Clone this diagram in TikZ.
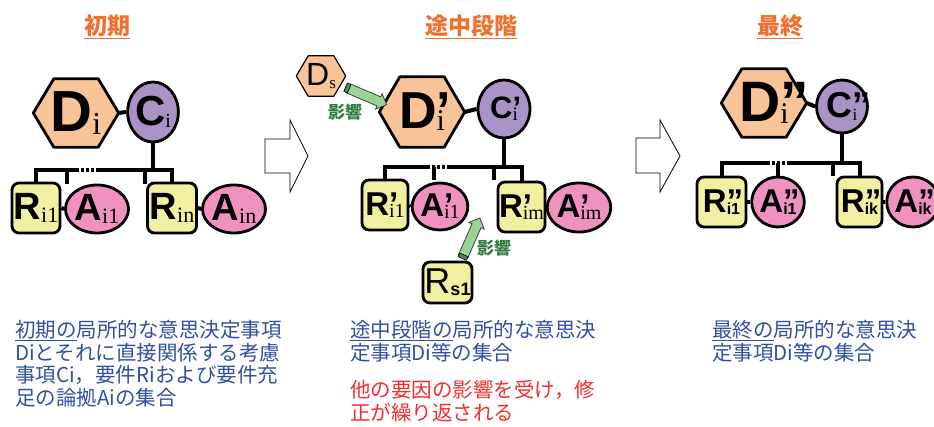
\documentclass[tikz,border=0pt]{standalone}
\usepackage{fontspec}
\setmainfont{Liberation Sans}
\newfontfamily\jp{Noto Sans CJK JP}
\newfontfamily\serifF{Liberation Serif}
\usetikzlibrary{shapes.geometric,shapes.arrows,calc,backgrounds}

\definecolor{hexc}{HTML}{F9C497}
\definecolor{cc}{HTML}{A992C6}
\definecolor{rc}{HTML}{F0F0A0}
\definecolor{ac}{HTML}{F092C0}
\definecolor{ttl}{HTML}{F07030}
\definecolor{blu}{HTML}{3050A0}
\definecolor{rd}{HTML}{F03030}
\definecolor{gf}{HTML}{98D498}
\definecolor{gt}{HTML}{2E7A3C}

% #1 letter size, #2 letter, #3 prime, #4 subscript, #5 sub size, #6 sub font
\newcommand\Lb[6]{{\fontsize{#1}{#1}\selectfont\bfseries #2\rlap{#3}}{\raisebox{-0.22em}{\fontsize{#5}{#5}\selectfont #6#4}}}
\newcommand\Lr[6]{{\fontsize{#1}{#1}\selectfont #2\rlap{#3}}{\raisebox{-0.22em}{\fontsize{#5}{#5}\selectfont #6#4}}}

\newcommand\hexat[1]{%
  \begin{scope}[on background layer]
  \filldraw[hexline] (#1.west) -- ($(#1.north west)!0.24!(#1.north east)$) -- ($(#1.north west)!0.76!(#1.north east)$) -- (#1.east) -- ($(#1.south west)!0.76!(#1.south east)$) -- ($(#1.south west)!0.24!(#1.south east)$) -- cycle;
  \end{scope}}

\tikzset{
  hexn/.style={rectangle, inner sep=0pt, align=center},
  hexline/.style={draw=black, fill=hexc, line width=2.8pt, line join=round},
  cnode/.style={ellipse, draw=black, fill=cc, line width=2.8pt, inner sep=0pt},
  rnode/.style={rectangle, rounded corners=7pt, draw=black, fill=rc, line width=2.8pt, inner sep=0pt},
  anode/.style={ellipse, draw=black, fill=ac, line width=2.8pt, inner sep=0pt},
  conn/.style={draw=black, line width=4pt},
  dotbus/.style={draw=black, line width=4pt, dash pattern=on 3pt off 2pt},
  ttlnode/.style={font=\jp\bfseries\fontsize{23pt}{26pt}\selectfont, text=ttl, inner sep=0pt},
  bodytext/.style={font=\jp\fontsize{20.5pt}{22.6pt}\selectfont, align=left, inner sep=0pt, anchor=north west},
  infl/.style={font=\jp\bfseries\fontsize{17pt}{18pt}\selectfont, text=gt, inner sep=0pt},
  garrow/.style={single arrow, draw=black!75, fill=gf, line width=0.8pt, inner sep=4.5pt, single arrow head extend=3.5pt, minimum height=40pt, sloped},
  gtail/.style={rectangle, draw=black, fill=gf!60!black, line width=0.6pt, minimum width=4pt, minimum height=9pt, inner sep=0pt, sloped},
  bigarrow/.style={draw=black, fill=white, line width=0.8pt, line join=miter},
}

\begin{document}
\begin{tikzpicture}[x=1pt,y=-1pt]
\useasboundingbox (0,0) rectangle (934,427);

% ---------------- titles
\node[ttlnode] (t1) at (107,27) {\underline{初期}};
\node[ttlnode] (t2) at (471,27) {\underline{途中段階}};
\node[ttlnode] (t3) at (780,27) {\underline{最終}};

% ---------------- panel 1
\node[hexn, minimum width=85pt, minimum height=68pt] (d1) at (76,113) {\Lb{58pt}{D}{}{i}{32pt}{\serifF}};
\hexat{d1}
\node[cnode, minimum width=50pt, minimum height=60pt] (c1) at (153,112) {\Lb{42pt}{C}{}{i}{20pt}{\serifF}};
\node[rnode, minimum width=48pt, minimum height=50pt] (r11) at (36,208) {\Lb{38pt}{R}{}{i1}{22pt}{\serifF}};
\node[anode, minimum width=53pt, minimum height=48pt] (a11) at (97,209) {\Lb{38pt}{A}{}{i1}{22pt}{\serifF}};
\node[rnode, minimum width=49pt, minimum height=50pt] (r1n) at (172,208) {\Lb{38pt}{R}{}{in}{22pt}{\serifF}};
\node[anode, minimum width=52pt, minimum height=48pt] (a1n) at (234,209) {\Lb{38pt}{A}{}{in}{22pt}{\serifF}};

\draw[conn] (d1.east) -- (c1.west);
\draw[conn] (r11.east) -- (a11.west);
\draw[conn] (r1n.east) -- (a1n.west);
\coordinate (g1a) at (76,170);
\coordinate (g1b) at (97,170);
\coordinate (k1a) at (67,170);
\coordinate (k1b) at (145,170);
\draw[conn] (r11.north) |- (g1a);
\draw[dotbus] (g1a) -- (g1b);
\draw[conn] (g1b) -| (r1n.north);
\draw[conn] (c1.south) -- (c1.south |- g1b);
\draw[conn] (k1a) -- ++(0,14);
\draw[conn] (k1b) -- ++(0,14);

% transition arrow 1
\draw[bigarrow] (265,139) -- (290,139) -- (290,120) -- (308,156) -- (290,192) -- (290,173) -- (265,173) -- cycle;

% ---------------- panel 2
\node[hexn, minimum width=49pt, minimum height=40pt] (ds) at (321,76) {\Lr{32pt}{D}{}{s}{17pt}{\serifF}};
\begin{scope}[on background layer]
\filldraw[draw=black, fill=hexc, line width=1.2pt, line join=round] (ds.west) -- ($(ds.north west)!0.24!(ds.north east)$) -- ($(ds.north west)!0.76!(ds.north east)$) -- (ds.east) -- ($(ds.south west)!0.76!(ds.south east)$) -- ($(ds.south west)!0.24!(ds.south east)$) -- cycle;
\end{scope}
\node[hexn, minimum width=85pt, minimum height=70pt] (d2) at (422,112) {\Lb{52pt}{D}{’}{i}{30pt}{\serifF}};
\hexat{d2}
\node[cnode, minimum width=52pt, minimum height=58pt] (c2) at (504,109) {\Lb{31pt}{C}{’}{i}{19pt}{\serifF}};
\node[rnode, minimum width=46pt, minimum height=50pt] (r21) at (385,205) {\Lb{33pt}{R}{’}{i1}{20pt}{\serifF}};
\node[anode, minimum width=46pt, minimum height=47pt] (a21) at (440,206.5) {\Lb{33pt}{A}{’}{i1}{20pt}{\serifF}};
\node[rnode, minimum width=47pt, minimum height=50pt] (r2m) at (521.5,207) {\Lb{33pt}{R}{’}{im}{20pt}{\serifF}};
\node[anode, minimum width=52pt, minimum height=49pt] (a2m) at (579,207.5) {\Lb{33pt}{A}{’}{im}{20pt}{\serifF}};
\node[rnode, minimum width=49pt, minimum height=41pt] (rs) at (447.5,282.5) {\Lr{36pt}{R}{}{\bfseries s1}{18pt}{}};

\draw[conn] (d2.east) -- (c2.west);
\draw[conn] (r21.east) -- (a21.west);
\draw[conn] (r2m.east) -- (a2m.west);
\coordinate (g2a) at (427,167);
\coordinate (g2b) at (447,167);
\coordinate (k2a) at (434,167);
\coordinate (k2b) at (494,167);
\draw[conn] (r21.north) |- (g2a);
\draw[dotbus] (g2a) -- (g2b);
\draw[conn] (g2b) -| (r2m.north);
\draw[conn] (c2.south) -- (c2.south |- g2b);
\draw[conn] (k2a) -- ++(0,13);
\draw[conn] (k2b) -- ++(0,13);

% influence arrows
\coordinate (p1s) at (345,87);
\coordinate (p1e) at (385,104);
\path (p1s) -- (p1e) node[midway, garrow, minimum height=42pt] (ga1) {};
\path (p1s) -- (p1e) node[pos=0.06, gtail] (gt1) {};
\node[infl] (inf1) at (345,112) {影響};

\coordinate (p2s) at (462,259);
\coordinate (p2e) at (479,220);
\path (p2s) -- (p2e) node[midway, garrow, minimum height=42pt] (ga2) {};
\path (p2s) -- (p2e) node[pos=0.06, gtail] (gt2) {};
\node[infl] (inf2) at (494,248) {影響};

% transition arrow 2
\draw[bigarrow] (636,138) -- (660,138) -- (660,120) -- (680,156) -- (660,192) -- (660,173) -- (636,173) -- cycle;

% ---------------- panel 3
\node[hexn, minimum width=85pt, minimum height=68pt] (d3) at (764,103) {\Lb{57pt}{D}{”}{i}{30pt}{\serifF}};
\hexat{d3}
\node[cnode, minimum width=51pt, minimum height=53pt] (c3) at (842,106.5) {\Lb{36pt}{C}{”}{i}{17pt}{\serifF}};
\node[rnode, minimum width=49pt, minimum height=50pt] (r31) at (721.5,202) {\Lb{33pt}{R}{”}{i1}{16pt}{\bfseries}};
\node[anode, minimum width=50pt, minimum height=50pt] (a31) at (778,202) {\Lb{33pt}{A}{”}{i1}{16pt}{\bfseries}};
\node[rnode, minimum width=45pt, minimum height=50pt] (r3k) at (859.5,202) {\Lb{33pt}{R}{”}{ik}{16pt}{\bfseries}};
\node[anode, minimum width=50pt, minimum height=50pt] (a3k) at (913,202) {\Lb{33pt}{A}{”}{ik}{16pt}{\bfseries}};

\draw[conn] (d3.east) -- (c3.west);
\draw[conn] (r31.east) -- (a31.west);
\draw[conn] (r3k.east) -- (a3k.west);
\coordinate (g3a) at (767,163);
\coordinate (g3b) at (787,163);
\coordinate (k3b) at (833,163);
\draw[conn] (r31.north) |- (g3a);
\draw[dotbus] (g3a) -- (g3b);
\draw[conn] (g3b) -| (r3k.north);
\draw[conn] (a31.north) -- (a31.north |- g3a);
\draw[conn] (c3.south) -- (c3.south |- g3b);
\draw[conn] (k3b) -- ++(0,13);

% ---------------- texts
\node[bodytext, text=blu] (x1) at (15,320) {\underline{初期の}局所的な意思決定事項\\Diとそれに直接関係する考慮\\事項Ci，要件Riおよび要件充\\足の論拠Aiの集合};
\node[bodytext, text=blu] (x2) at (350,320) {\underline{途中段階の}局所的な意思決\\定事項Di等の集合};
\node[bodytext, text=rd] (x2r) at (350,380) {他の要因の影響を受け，修\\正が繰り返される};
\node[bodytext, text=blu] (x3) at (712,320) {\underline{最終の}局所的な意思決\\定事項Di等の集合};
\end{tikzpicture}
\end{document}
